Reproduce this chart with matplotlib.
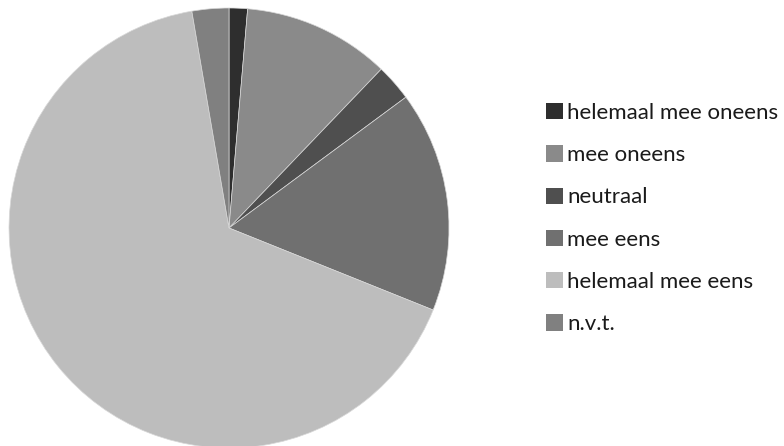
"""
Pie chart of agreement answers (helemaal mee oneens ... n.v.t.).
"""

import matplotlib
matplotlib.use('Agg')
import matplotlib.pyplot as plt
from matplotlib.patches import Patch

# Data
# ----------------------------------------------------------------------------

labels = ['helemaal mee oneens', 'mee oneens', 'neutraal', 'mee eens',
          'helemaal mee eens', 'n.v.t.']
counts = [1, 8, 2, 12, 49, 2]
colors = ['#2e2e2e', '#8a8a8a', '#4f4f4f', '#707070', '#bdbdbd', '#808080']

# Plot
# ----------------------------------------------------------------------------

plt.rcParams['font.family'] = ['Lato', 'DejaVu Sans']

fig = plt.figure(figsize=(7.84, 4.46), dpi=100)
ax = fig.add_axes([9 / 784, 1 - 448 / 446, 440 / 784, 440 / 446])
ax.pie(counts, colors=colors, startangle=90, counterclock=False,
       wedgeprops=dict(edgecolor='#d8d8d8', linewidth=0.5))
ax.set_xlim(-1, 1)
ax.set_ylim(-1, 1)
ax.set_aspect('equal')
ax.axis('off')

handles = [Patch(facecolor=c, edgecolor='none') for c in colors]
fig.legend(handles, labels, loc='upper left', bbox_to_anchor=(546 / 784, 1 - 103 / 446),
           frameon=False, fontsize=16, handlelength=0.75, handleheight=0.75,
           handletextpad=0.2, labelspacing=1.0, borderaxespad=0, borderpad=0,
           labelcolor='#1a1a1a')

fig.savefig('out.png', dpi=100)
